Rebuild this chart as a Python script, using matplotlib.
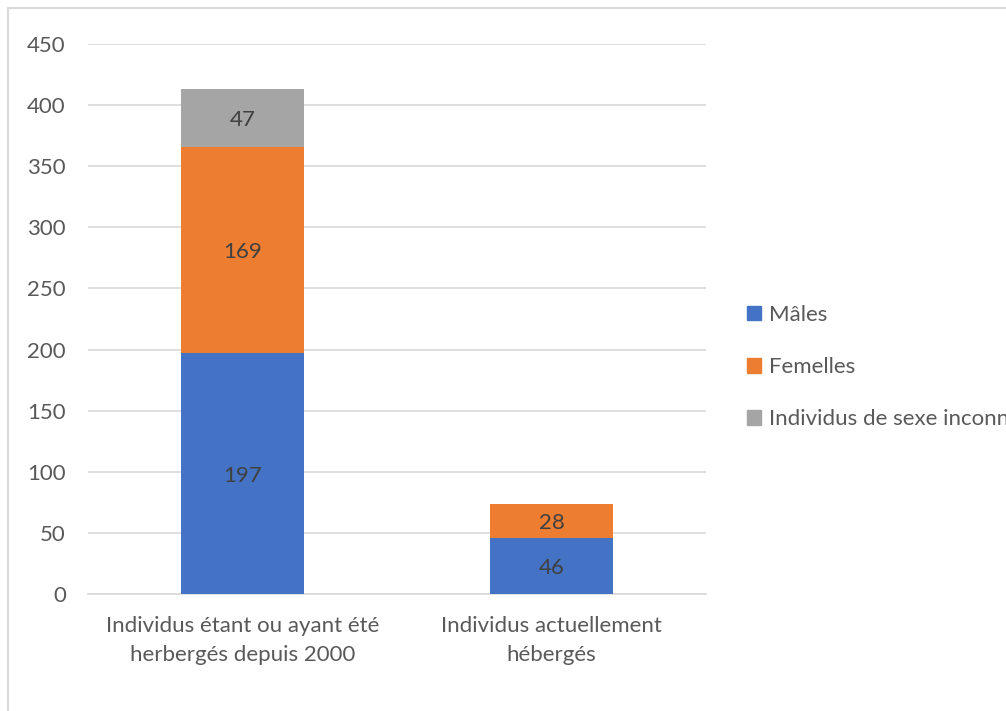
import matplotlib.pyplot as plt
from matplotlib.patches import Rectangle, Patch
import numpy as np

# data
categories = ["Individus étant ou ayant été\nherbergés depuis 2000", "Individus actuellement\nhébergés"]
males = [197, 46]
femelles = [169, 28]
inconnus = [47, 0]
series_names = ["Mâles", "Femelles", "Individus de sexe inconnu"]
colors = ["#4472C4", "#ED7D31", "#A5A5A5"]

plt.rcParams['font.family'] = ['Lato', 'DejaVu Sans']
txt = "#595959"
fs = 16

fig = plt.figure(figsize=(10.06, 7.11), dpi=100)
ax = fig.add_axes([88/1006, 1 - 594/711, (706-88)/1006, (594-44)/711])

x = np.arange(len(categories))
w = 0.40
bottom = np.zeros(len(categories))
for vals, name, c in zip([males, femelles, inconnus], series_names, colors):
    vals = np.array(vals)
    ax.bar(x, vals, w, bottom=bottom, color=c, label=name, zorder=3)
    for xi, v, b in zip(x, vals, bottom):
        if v > 0:
            ax.text(xi, b + v / 2, str(v), ha='center', va='center_baseline', fontsize=fs, color="#404040", zorder=4)
    bottom += vals

ax.set_xlim(-0.5, 1.5)
ax.set_ylim(0, 450)
ax.set_yticks(np.arange(0, 451, 50))
ax.yaxis.grid(True, color="#D9D9D9", lw=1.2, zorder=0)
ax.set_axisbelow(True)
for s in ['top', 'right', 'left']:
    ax.spines[s].set_visible(False)
ax.spines['bottom'].set_color("#D9D9D9")
ax.spines['bottom'].set_linewidth(1.2)
ax.tick_params(axis='both', length=0, labelsize=fs, colors=txt)
ax.tick_params(axis='y', pad=16)
ax.tick_params(axis='x', pad=16)
ax.set_xticks(x)
ax.set_xticklabels(categories, linespacing=1.55)

handles = [Patch(color=c) for c in colors]
fig.legend(handles, series_names, loc='center left', bbox_to_anchor=(727/1006, 1 - 367/711),
           frameon=False, fontsize=fs, labelcolor=txt, handlelength=0.65, handleheight=0.65,
           handletextpad=0.35, labelspacing=1.45)

# outer chart border
fig.patches.append(Rectangle((8/1006, -0.1), 1.2, 1.1 - 8/711, transform=fig.transFigure,
                             fill=False, edgecolor="#D9D9D9", lw=1.5))

fig.savefig("out.png", dpi=100)
